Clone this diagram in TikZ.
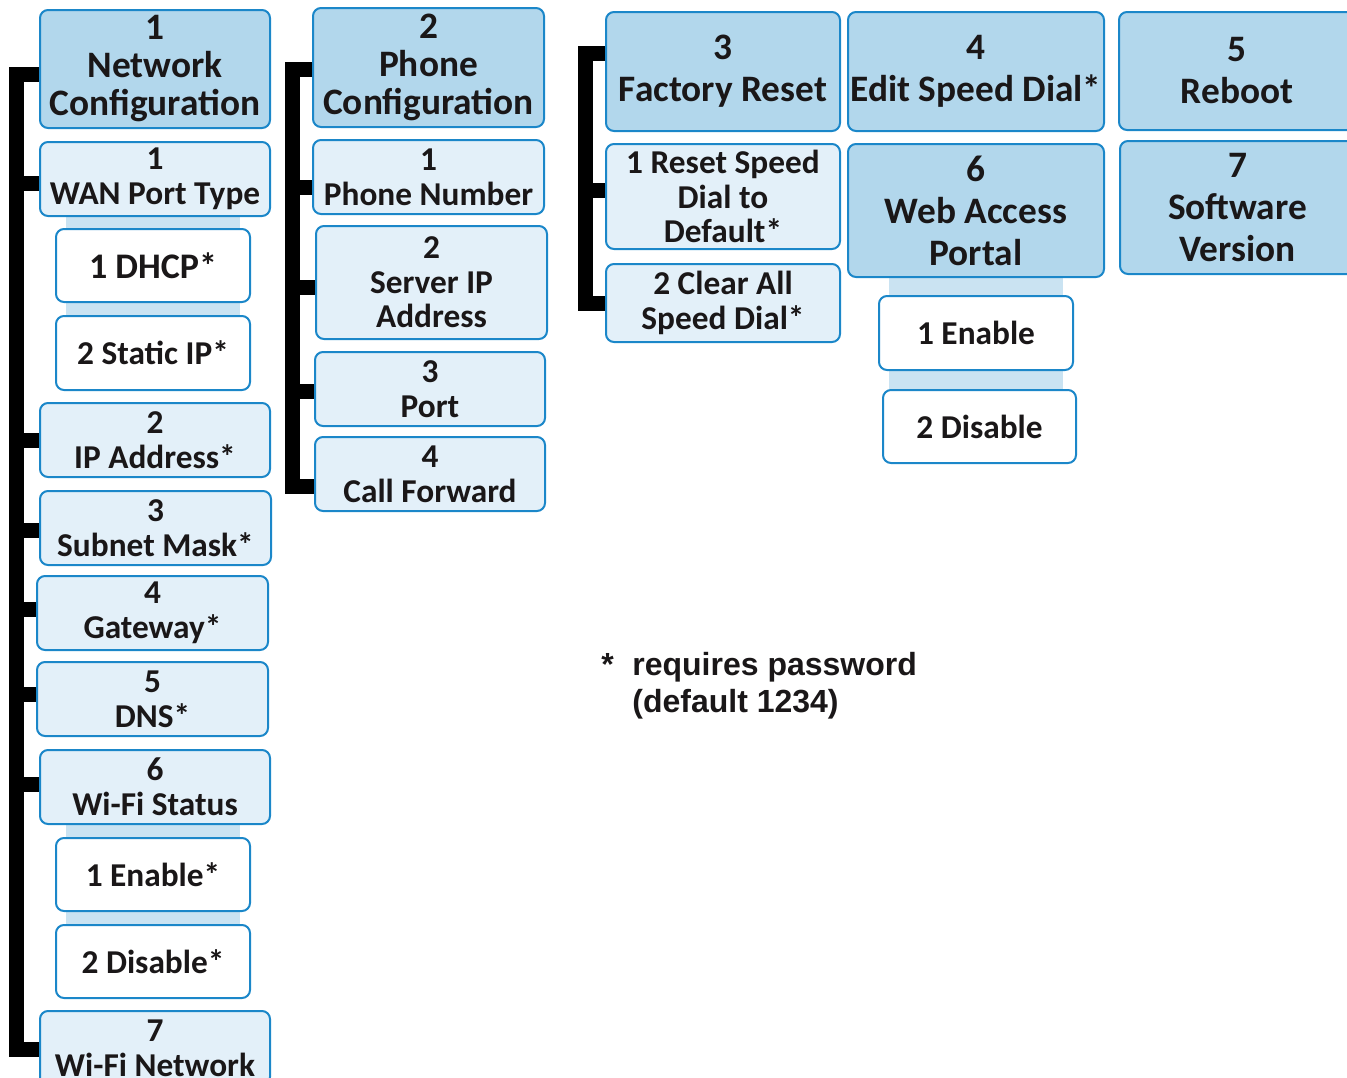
\documentclass[tikz,border=0pt]{standalone}
\usepackage{fontspec}
\setmainfont{Carlito}
\newfontfamily\notefont{Liberation Sans}
\pgfdeclarelayer{background}
\pgfsetlayers{background,main}
\definecolor{bordc}{HTML}{1B87C9}
\definecolor{darkf}{HTML}{B2D7EC}
\definecolor{lightf}{HTML}{E3F0F9}
\definecolor{stripc}{HTML}{CAE3F2}
\definecolor{txt}{HTML}{1A1718}
\newcommand{\boxat}[7]{\node[#2, minimum width={(#5-#3)*0.75pt}, minimum height={(#6-#4)*0.75pt}] (#1) at ({(#3+#5)/2},{(#4+#6)/2}) {#7};}
\begin{document}
\begin{tikzpicture}[x=0.75pt,y=-0.75pt,
  box/.style={draw=bordc, line width=1.5pt, rounded corners=6pt, inner sep=0pt, align=center, text=txt},
  darkA/.style={box, fill=darkf, font=\fontsize{28}{28.5}\selectfont\bfseries},
  darkB/.style={box, fill=darkf, font=\fontsize{28}{31.5}\selectfont\bfseries},
  lite/.style={box, fill=lightf, font=\fontsize{25}{26}\selectfont\bfseries},
  leaf/.style={box, fill=white, font=\fontsize{25}{26}\selectfont\bfseries},
  bigleaf/.style={leaf, font=\fontsize{27}{28}\selectfont\bfseries},
  bracket/.style={line width=11.25pt, black},
  strip/.style={line width=130.5pt, stripc}
]
\useasboundingbox (0,0) rectangle (1347,1078);

% column 1
\boxat{nc}{darkA}{40}{10}{270}{128}{\rule{0pt}{8pt}1\\Network\\Configuration}
\boxat{wan}{lite}{40}{142}{270}{216}{1\\WAN Port Type}
\boxat{dhcp}{bigleaf}{56}{229}{250}{302}{1 DHCP*}
\boxat{stat}{leaf}{56}{316}{250}{390}{2 Static IP*}
\boxat{ip}{lite}{40}{403}{270}{477}{2\\IP Address*}
\boxat{sub}{lite}{40}{491}{271}{565}{3\\Subnet Mask*}
\boxat{gw}{lite}{37}{576}{268}{650}{4\\Gateway*}
\boxat{dns}{lite}{37}{662}{268}{736}{5\\DNS*}
\boxat{wfs}{lite}{40}{750}{270}{824}{6\\Wi-Fi Status}
\boxat{enA}{leaf}{56}{838}{250}{911}{1 Enable*}
\boxat{disA}{leaf}{56}{925}{250}{998}{2 Disable*}
\boxat{wfn}{lite}{40}{1011}{270}{1085}{7\\Wi-Fi Network}

% column 2
\boxat{pc}{darkA}{313}{8}{544}{127}{2\\Phone\\Configuration}
\boxat{pn}{lite}{313}{140}{544}{214}{1\\Phone Number}
\boxat{sip}{lite}{316}{226}{547}{339}{2\\Server IP\\Address}
\boxat{port}{lite}{315}{352}{545}{426}{3\\Port}
\boxat{cf}{lite}{315}{437}{545}{511}{4\\Call Forward}

% column 3
\boxat{fr}{darkB}{606}{12}{840}{131}{3\\Factory Reset}
\boxat{rsd}{lite}{606}{144}{840}{249}{1 Reset Speed\\Dial to\\Default*}
\boxat{cas}{lite}{606}{264}{840}{342}{2 Clear All\\Speed Dial*}

% column 4
\boxat{esd}{darkB}{848}{12}{1104}{131}{4\\Edit Speed Dial*}
\boxat{wap}{darkB}{848}{144}{1104}{277}{6\\Web Access\\Portal}
\boxat{enB}{leaf}{879}{296}{1073}{370}{1 Enable}
\boxat{disB}{leaf}{883}{390}{1076}{463}{2 Disable}

% column 5
\boxat{rb}{darkB}{1119}{12}{1355}{130}{5\\Reboot}
\boxat{sv}{darkB}{1120}{141}{1355}{274}{7\\Software\\Version}

% strips
\begin{pgfonlayer}{background}
\draw[strip] (dhcp.north) -- (dhcp.north |- wan.south);
\draw[strip] (stat.north) -- (stat.north |- dhcp.south);
\draw[strip] (enA.north) -- (enA.north |- wfs.south);
\draw[strip] (disA.north) -- (disA.north |- enA.south);
\draw[strip] (enB.north) -- (enB.north |- wap.south);
\draw[strip] (enB.south) -- (enB.south |- disB.north);
\end{pgfonlayer}

% brackets
\coordinate (spL) at (16.5,0);
\coordinate (spM) at (292.5,0);
\coordinate (spR) at (585.5,0);

\coordinate (a1) at ([yshift=-4.1pt]nc.west);
\coordinate (a2) at ([yshift=-3pt]wan.west);
\coordinate (a3) at (ip.west);
\coordinate (a4) at ([yshift=-1.5pt]sub.west);
\coordinate (a5) at ([yshift=2.6pt]gw.west);
\coordinate (a6) at ([yshift=3.4pt]dns.west);
\coordinate (a7) at ([yshift=1.9pt]wfs.west);
\coordinate (a8) at ([yshift=-1.1pt]wfn.west);
\draw[bracket] (a1) -- (a1 -| spL) -- (a8 -| spL) -- (a8);
\foreach \t in {a2,a3,a4,a5,a6,a7} \draw[bracket] (\t -| spL) -- (\t);

\coordinate (b1) at ([yshift=-1.5pt]pc.west);
\coordinate (b2) at ([yshift=-7.9pt]pn.west);
\coordinate (b3) at ([yshift=-3.75pt]sip.west);
\coordinate (b4) at ([yshift=-1.5pt]port.west);
\coordinate (b5) at ([yshift=-9.4pt]cf.west);
\draw[bracket] (b1) -- (b1 -| spM) -- (b5 -| spM) -- (b5);
\foreach \t in {b2,b3,b4} \draw[bracket] (\t -| spM) -- (\t);

\coordinate (c1) at ([yshift=13.5pt]fr.west);
\coordinate (c2) at ([yshift=4.5pt]rsd.west);
\coordinate (c3) at (cas.west);
\draw[bracket] (c1) -- (c1 -| spR) -- (c3 -| spR) -- (c3);
\draw[bracket] (c2 -| spR) -- (c2);

% note
\node[anchor=west, inner sep=0pt, text=txt, font=\notefont\bfseries\fontsize{24}{27.75}\selectfont] (note) at (601,687)
 {\begin{tabular}{@{}l@{\hspace{14pt}}l@{}}*&requires password\\&(default 1234)\end{tabular}};
\end{tikzpicture}
\end{document}
